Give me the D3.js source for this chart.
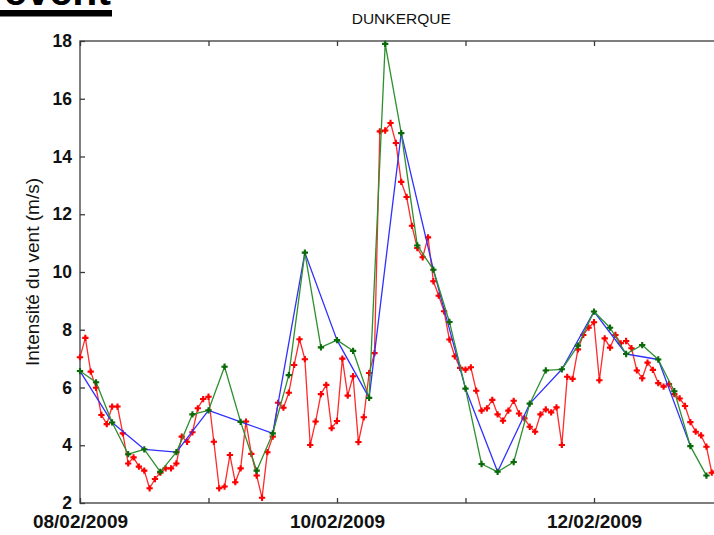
<!DOCTYPE html>
<html>
<head>
<meta charset="utf-8">
<script src="https://cdn.jsdelivr.net/npm/d3@7/dist/d3.min.js"></script>
<style>
  html, body { margin: 0; padding: 0; background: #fff; overflow: hidden; }
  svg { display: block; font-family: "Liberation Sans", Arial, sans-serif; }
</style>
</head>
<body>
<svg id="chart" width="714" height="535"></svg>
<script>
// Wind speed at Dunkerque, 8–13 February 2009 (m/s)
const startTime = new Date(2009, 1, 8, 0, 0);
const endTime = new Date(2009, 1, 13, 0, 0);

// Hourly observations
const obsStepHours = 1;
const obsValues = [
  7.05, 7.72, 6.55, 5.99, 5.05, 4.73, 5.34, 5.34, 4.41, 3.37, 3.58, 3.26,
  3.12, 2.51, 2.83, 3.05, 3.20, 3.20, 3.37, 4.30, 4.12, 4.45, 5.28, 5.60,
  5.68, 4.12, 2.51, 2.57, 3.66, 2.72, 3.20, 4.82, 3.70, 2.95, 2.18, 3.76,
  4.30, 5.47, 5.30, 5.82, 6.78, 7.67, 6.98, 4.01, 4.82, 5.77, 6.09, 4.59,
  4.84, 7.00, 5.72, 6.39, 4.11, 4.97, 6.50, 7.19, 14.87, 14.90, 15.16, 14.47,
  13.12, 12.60, 11.60, 10.83, 10.51, 11.20, 9.68, 9.18, 8.64, 7.66, 7.08, 6.68,
  6.62, 6.70, 5.89, 5.20, 5.28, 5.57, 5.07, 4.85, 5.20, 5.54, 5.10, 4.93,
  4.64, 4.47, 5.07, 5.24, 5.14, 5.31, 4.01, 6.37, 6.30, 7.32, 7.82, 8.07,
  8.26, 6.25, 7.70, 7.38, 7.82, 7.53, 7.61, 7.36, 6.59, 6.32, 6.86, 6.61,
  6.15, 6.03, 6.12, 5.77, 5.62, 5.36, 4.80, 4.47, 4.34, 3.95, 3.05, 3.20
];

// 3-hourly model output
const model3hStepHours = 3;
const model3hValues = [
  6.57, 6.18, 4.79, 3.69, 3.86, 3.08, 3.76, 5.07, 5.21, 6.72,
  4.81, 3.12, 4.41, 6.43, 10.67, 7.39, 7.64, 7.27, 5.64, 17.90,
  14.81, 10.92, 10.08, 8.27, 5.96, 3.35, 3.08, 3.42, 5.44, 6.59,
  6.63, 7.45, 8.63, 8.07, 7.16, 7.47, 6.97, 5.87, 3.97, 2.95
];

// 6-hourly model output
const model6hStepHours = 6;
const model6hValues = [
  6.57, 4.79, 3.86, 3.76, 5.21, 4.81, 4.41, 10.67, 7.64, 5.64,
  14.81, 10.08, 5.96, 3.08, 5.44, 6.63, 8.63, 7.16, 6.97, 3.97
];

const yTicks = [2, 4, 6, 8, 10, 12, 14, 16, 18];
const xTickLabels = ["08/02/2009", "", "10/02/2009", "", "12/02/2009", ""];

const titleText = "DUNKERQUE";
const yLabelText = "Intensité du vent (m/s)";
const headingText = "event";

const svg = d3.select("#chart");

const margin = { left: 80, top: 41, bottom: 503, right: 722.5 };

const x = d3.scaleTime().domain([startTime, endTime]).range([margin.left, margin.right]);
const y = d3.scaleLinear().domain([2, 18]).range([margin.bottom, margin.top]);

const hour = 3600 * 1000;
const toPoints = (vals, step) => vals.map((v, i) => ({ t: new Date(startTime.getTime() + i * step * hour), v }));

const obs = toPoints(obsValues, obsStepHours);
const m3 = toPoints(model3hValues, model3hStepHours);
const m6 = toPoints(model6hValues, model6hStepHours);

// Slide heading fragment
svg.append("text")
  .attr("x", 111).attr("y", 5)
  .attr("text-anchor", "end")
  .attr("font-size", 41).attr("font-weight", "bold")
  .attr("fill", "#000")
  .text(headingText);
svg.append("rect")
  .attr("x", 0).attr("y", 10).attr("width", 112).attr("height", 6.5)
  .attr("fill", "#000");

// Title
svg.append("text")
  .attr("x", (margin.left + margin.right) / 2).attr("y", 24)
  .attr("text-anchor", "middle")
  .attr("font-size", 15.5)
  .attr("fill", "#111")
  .text(titleText);

// Y label
svg.append("text")
  .attr("transform", `translate(39,${(margin.top + margin.bottom) / 2}) rotate(-90)`)
  .attr("text-anchor", "middle")
  .attr("font-size", 19)
  .attr("fill", "#111")
  .text(yLabelText);

// Axes box
const axisColor = "#3a3a3a";
svg.append("rect")
  .attr("x", margin.left).attr("y", margin.top)
  .attr("width", margin.right - margin.left).attr("height", margin.bottom - margin.top)
  .attr("fill", "none").attr("stroke", axisColor).attr("stroke-width", 1.3);

const dayTicks = d3.range(0, 6).map(d => new Date(startTime.getTime() + d * 24 * hour));

const xAxis = d3.axisBottom(x)
  .tickValues(dayTicks)
  .tickSizeInner(-5).tickSizeOuter(0).tickPadding(12)
  .tickFormat((d, i) => xTickLabels[i]);
const gx = svg.append("g").attr("transform", `translate(0,${margin.bottom})`).call(xAxis);

const xTop = d3.axisTop(x)
  .tickValues(dayTicks)
  .tickSizeInner(-5).tickSizeOuter(0)
  .tickFormat(() => "");
const gxt = svg.append("g").attr("transform", `translate(0,${margin.top})`).call(xTop);

const yAxis = d3.axisLeft(y)
  .tickValues(yTicks)
  .tickSizeInner(-5).tickSizeOuter(0).tickPadding(8)
  .tickFormat(d3.format("d"));
const gy = svg.append("g").attr("transform", `translate(${margin.left},0)`).call(yAxis);

[gx, gxt, gy].forEach(g => {
  g.select(".domain").remove();
  g.selectAll(".tick line").attr("stroke", axisColor).attr("stroke-width", 1.3);
  g.selectAll(".tick text").attr("fill", "#111").attr("font-weight", "bold")
    .attr("font-family", "'Liberation Sans', Arial, sans-serif");
});
gx.selectAll(".tick text").attr("font-size", 19);
gy.selectAll(".tick text").attr("font-size", 17.5);

// Series
const line = d3.line().x(d => x(d.t)).y(d => y(d.v));
const cross = d3.symbol().type(d3.symbolCross).size(22);
const dot = d3.symbol().type(d3.symbolCircle).size(8);

function drawSeries(data, lineColor, markerColor, withMarkers) {
  const g = svg.append("g");
  g.append("path").datum(data)
    .attr("d", line)
    .attr("fill", "none")
    .attr("stroke", lineColor)
    .attr("stroke-width", 1.3)
    .attr("stroke-linejoin", "round");
  if (withMarkers) {
    const mk = g.selectAll("g.mk").data(data).enter().append("g")
      .attr("class", "mk")
      .attr("transform", d => `translate(${x(d.t)},${y(d.v)})`);
    mk.append("path").attr("d", cross).attr("fill", markerColor);
    mk.append("path").attr("d", dot).attr("fill", markerColor);
  }
}

drawSeries(obs, "#ff2a2a", "#ff0000", true);
drawSeries(m6, "#3030ff", "#3030ff", false);
drawSeries(m3, "#2e8f2e", "#0a6a0a", true);
</script>
</body>
</html>
